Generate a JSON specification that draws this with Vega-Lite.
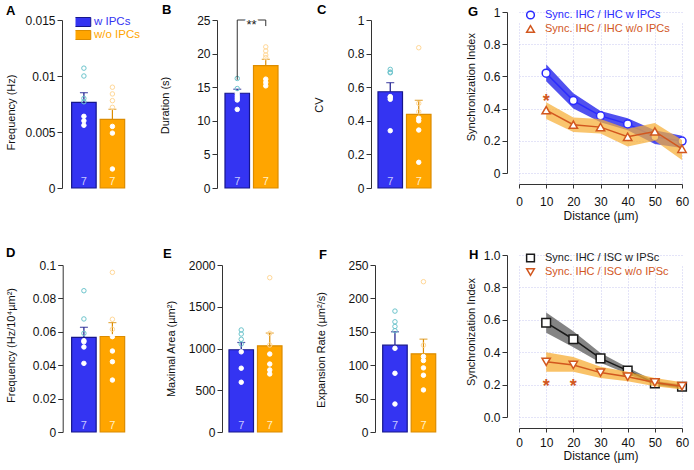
{
"$schema": "https://vega.github.io/schema/vega-lite/v6.json",
"autosize": {"type": "none"},
"padding": {"left": 64, "top": 12, "right": 630, "bottom": 458},
"background": "white",
"datasets": {
"bars": [
{"key":"A|w","panel":"A","group":"w IPCs","mean":0.00765,"hi":0.00851,"n":7},
{"key":"A|o","panel":"A","group":"w/o IPCs","mean":0.00613,"hi":0.00703,"n":7},
{"key":"B|w","panel":"B","group":"w IPCs","mean":14.1,"hi":14.7,"n":7},
{"key":"B|o","panel":"B","group":"w/o IPCs","mean":18.2,"hi":19.15,"n":7},
{"key":"C|w","panel":"C","group":"w IPCs","mean":0.573,"hi":0.627,"n":7},
{"key":"C|o","panel":"C","group":"w/o IPCs","mean":0.438,"hi":0.522,"n":7},
{"key":"D|w","panel":"D","group":"w IPCs","mean":0.0567,"hi":0.0627,"n":7},
{"key":"D|o","panel":"D","group":"w/o IPCs","mean":0.0572,"hi":0.0655,"n":7},
{"key":"E|w","panel":"E","group":"w IPCs","mean":985,"hi":1072,"n":7},
{"key":"E|o","panel":"E","group":"w/o IPCs","mean":1032,"hi":1185,"n":7},
{"key":"F|w","panel":"F","group":"w IPCs","mean":130,"hi":150,"n":7},
{"key":"F|o","panel":"F","group":"w/o IPCs","mean":117,"hi":139,"n":7}
],
"pts": [
{"panel":"A","group":"w IPCs","key":"A|w","v":0.0107},{"panel":"A","group":"w IPCs","key":"A|w","v":0.0100},{"panel":"A","group":"w IPCs","key":"A|w","v":0.0080},{"panel":"A","group":"w IPCs","key":"A|w","v":0.0077},{"panel":"A","group":"w IPCs","key":"A|w","v":0.0064},{"panel":"A","group":"w IPCs","key":"A|w","v":0.0060},{"panel":"A","group":"w IPCs","key":"A|w","v":0.0056},
{"panel":"A","group":"w/o IPCs","key":"A|o","v":0.0090},{"panel":"A","group":"w/o IPCs","key":"A|o","v":0.0084},{"panel":"A","group":"w/o IPCs","key":"A|o","v":0.0078},{"panel":"A","group":"w/o IPCs","key":"A|o","v":0.0072},{"panel":"A","group":"w/o IPCs","key":"A|o","v":0.0055},{"panel":"A","group":"w/o IPCs","key":"A|o","v":0.0049},{"panel":"A","group":"w/o IPCs","key":"A|o","v":0.0017},
{"panel":"B","group":"w IPCs","key":"B|w","v":16.3},{"panel":"B","group":"w IPCs","key":"B|w","v":14.8},{"panel":"B","group":"w IPCs","key":"B|w","v":14.05},{"panel":"B","group":"w IPCs","key":"B|w","v":13.7},{"panel":"B","group":"w IPCs","key":"B|w","v":13.4},{"panel":"B","group":"w IPCs","key":"B|w","v":13.1},{"panel":"B","group":"w IPCs","key":"B|w","v":11.7},
{"panel":"B","group":"w/o IPCs","key":"B|o","v":21.0},{"panel":"B","group":"w/o IPCs","key":"B|o","v":20.4},{"panel":"B","group":"w/o IPCs","key":"B|o","v":19.8},{"panel":"B","group":"w/o IPCs","key":"B|o","v":19.4},{"panel":"B","group":"w/o IPCs","key":"B|o","v":16.2},{"panel":"B","group":"w/o IPCs","key":"B|o","v":15.7},{"panel":"B","group":"w/o IPCs","key":"B|o","v":15.2},
{"panel":"C","group":"w IPCs","key":"C|w","v":0.706},{"panel":"C","group":"w IPCs","key":"C|w","v":0.690},{"panel":"C","group":"w IPCs","key":"C|w","v":0.686},{"panel":"C","group":"w IPCs","key":"C|w","v":0.544},{"panel":"C","group":"w IPCs","key":"C|w","v":0.540},{"panel":"C","group":"w IPCs","key":"C|w","v":0.528},{"panel":"C","group":"w IPCs","key":"C|w","v":0.341},
{"panel":"C","group":"w/o IPCs","key":"C|o","v":0.835},{"panel":"C","group":"w/o IPCs","key":"C|o","v":0.504},{"panel":"C","group":"w/o IPCs","key":"C|o","v":0.454},{"panel":"C","group":"w/o IPCs","key":"C|o","v":0.415},{"panel":"C","group":"w/o IPCs","key":"C|o","v":0.400},{"panel":"C","group":"w/o IPCs","key":"C|o","v":0.345},{"panel":"C","group":"w/o IPCs","key":"C|o","v":0.153},
{"panel":"D","group":"w IPCs","key":"D|w","v":0.0846},{"panel":"D","group":"w IPCs","key":"D|w","v":0.0677},{"panel":"D","group":"w IPCs","key":"D|w","v":0.0591},{"panel":"D","group":"w IPCs","key":"D|w","v":0.0547},{"panel":"D","group":"w IPCs","key":"D|w","v":0.0540},{"panel":"D","group":"w IPCs","key":"D|w","v":0.0509},{"panel":"D","group":"w IPCs","key":"D|w","v":0.0411},
{"panel":"D","group":"w/o IPCs","key":"D|o","v":0.0956},{"panel":"D","group":"w/o IPCs","key":"D|o","v":0.0675},{"panel":"D","group":"w/o IPCs","key":"D|o","v":0.0615},{"panel":"D","group":"w/o IPCs","key":"D|o","v":0.0571},{"panel":"D","group":"w/o IPCs","key":"D|o","v":0.0485},{"panel":"D","group":"w/o IPCs","key":"D|o","v":0.0421},{"panel":"D","group":"w/o IPCs","key":"D|o","v":0.0311},
{"panel":"E","group":"w IPCs","key":"E|w","v":1222},{"panel":"E","group":"w IPCs","key":"E|w","v":1174},{"panel":"E","group":"w IPCs","key":"E|w","v":1110},{"panel":"E","group":"w IPCs","key":"E|w","v":1054},{"panel":"E","group":"w IPCs","key":"E|w","v":960},{"panel":"E","group":"w IPCs","key":"E|w","v":764},{"panel":"E","group":"w IPCs","key":"E|w","v":596},
{"panel":"E","group":"w/o IPCs","key":"E|o","v":1848},{"panel":"E","group":"w/o IPCs","key":"E|o","v":1182},{"panel":"E","group":"w/o IPCs","key":"E|o","v":1042},{"panel":"E","group":"w/o IPCs","key":"E|o","v":934},{"panel":"E","group":"w/o IPCs","key":"E|o","v":814},{"panel":"E","group":"w/o IPCs","key":"E|o","v":743},{"panel":"E","group":"w/o IPCs","key":"E|o","v":695},
{"panel":"F","group":"w IPCs","key":"F|w","v":181},{"panel":"F","group":"w IPCs","key":"F|w","v":165},{"panel":"F","group":"w IPCs","key":"F|w","v":158},{"panel":"F","group":"w IPCs","key":"F|w","v":151.6},{"panel":"F","group":"w IPCs","key":"F|w","v":125.3},{"panel":"F","group":"w IPCs","key":"F|w","v":87.9},{"panel":"F","group":"w IPCs","key":"F|w","v":41.9},
{"panel":"F","group":"w/o IPCs","key":"F|o","v":225},{"panel":"F","group":"w/o IPCs","key":"F|o","v":130},{"panel":"F","group":"w/o IPCs","key":"F|o","v":113},{"panel":"F","group":"w/o IPCs","key":"F|o","v":107},{"panel":"F","group":"w/o IPCs","key":"F|o","v":96},{"panel":"F","group":"w/o IPCs","key":"F|o","v":85},{"panel":"F","group":"w/o IPCs","key":"F|o","v":63}
],
"sync": [
{"panel":"G","s":"Sync. IHC / IHC w IPCs","d":10,"v":0.62,"lo":0.57,"hi":0.675},
{"panel":"G","s":"Sync. IHC / IHC w IPCs","d":20,"v":0.45,"lo":0.40,"hi":0.495},
{"panel":"G","s":"Sync. IHC / IHC w IPCs","d":30,"v":0.355,"lo":0.315,"hi":0.385},
{"panel":"G","s":"Sync. IHC / IHC w IPCs","d":40,"v":0.305,"lo":0.265,"hi":0.34},
{"panel":"G","s":"Sync. IHC / IHC w IPCs","d":50,"v":0.225,"lo":0.18,"hi":0.265},
{"panel":"G","s":"Sync. IHC / IHC w IPCs","d":60,"v":0.198,"lo":0.155,"hi":0.232},
{"panel":"G","s":"Sync. IHC / IHC w/o IPCs","d":10,"v":0.39,"lo":0.335,"hi":0.44},
{"panel":"G","s":"Sync. IHC / IHC w/o IPCs","d":20,"v":0.30,"lo":0.255,"hi":0.345},
{"panel":"G","s":"Sync. IHC / IHC w/o IPCs","d":30,"v":0.285,"lo":0.245,"hi":0.335},
{"panel":"G","s":"Sync. IHC / IHC w/o IPCs","d":40,"v":0.225,"lo":0.165,"hi":0.275},
{"panel":"G","s":"Sync. IHC / IHC w/o IPCs","d":50,"v":0.258,"lo":0.20,"hi":0.31},
{"panel":"G","s":"Sync. IHC / IHC w/o IPCs","d":60,"v":0.15,"lo":0.08,"hi":0.205},
{"panel":"H","s":"Sync. IHC / ISC w IPSc","d":10,"v":0.582,"lo":0.52,"hi":0.645},
{"panel":"H","s":"Sync. IHC / ISC w IPSc","d":20,"v":0.48,"lo":0.43,"hi":0.53},
{"panel":"H","s":"Sync. IHC / ISC w IPSc","d":30,"v":0.362,"lo":0.335,"hi":0.395},
{"panel":"H","s":"Sync. IHC / ISC w IPSc","d":40,"v":0.286,"lo":0.265,"hi":0.305},
{"panel":"H","s":"Sync. IHC / ISC w IPSc","d":50,"v":0.208,"lo":0.198,"hi":0.222},
{"panel":"H","s":"Sync. IHC / ISC w IPSc","d":60,"v":0.187,"lo":0.175,"hi":0.2},
{"panel":"H","s":"Sync. IHC / ISC w/o IPSc","d":10,"v":0.341,"lo":0.28,"hi":0.40},
{"panel":"H","s":"Sync. IHC / ISC w/o IPSc","d":20,"v":0.321,"lo":0.28,"hi":0.37},
{"panel":"H","s":"Sync. IHC / ISC w/o IPSc","d":30,"v":0.274,"lo":0.24,"hi":0.31},
{"panel":"H","s":"Sync. IHC / ISC w/o IPSc","d":40,"v":0.249,"lo":0.22,"hi":0.28},
{"panel":"H","s":"Sync. IHC / ISC w/o IPSc","d":50,"v":0.213,"lo":0.19,"hi":0.24},
{"panel":"H","s":"Sync. IHC / ISC w/o IPSc","d":60,"v":0.19,"lo":0.17,"hi":0.215}
]
},
"columns": 4,
"spacing": {"row": 67, "column": 81.67},
"bounds": "flush",
"resolve": {"scale": {"fill": "independent", "stroke": "independent", "shape": "independent", "color": "independent"}},
"concat": [
{
"width": 70, "height": 176,
"title": {"text": "A", "anchor": "start", "frame": "group", "offset": 0, "baseline": "alphabetic", "dx": -58, "dy": 15.5},
"layer": [
{"data": {"name": "bars"}, "transform": [{"filter": "datum.panel === 'A'"}],
 "mark": {"type": "bar", "strokeWidth": 1.2},
 "encoding": {
  "x": {"field": "group", "type": "nominal", "axis": null, "scale": {"domain": ["w IPCs", "w/o IPCs"], "paddingInner": 0.14, "paddingOuter": 0.298, "align": 0.45}},
  "y": {"field": "mean", "type": "quantitative", "scale": {"domain": [0, 0.015], "nice": false, "rangeMin": 176, "rangeMax": 8}, "axis": {"values": [0, 0.005, 0.01, 0.015], "tickCount": 20, "format": "~g", "title": "Frequency (Hz)", "offset": 2, "titleX": -50.5, "titleY": 100}},
  "fill": {"field": "group", "type": "nominal", "scale": {"domain": ["w IPCs", "w/o IPCs"], "range": ["#3434f2", "#ffa500"]}, "legend": {"orient": "none", "legendX": 11.5, "legendY": 3.5, "title": null, "symbolType": "M-1.9,-0.9L1.9,-0.9L1.9,0.9L-1.9,0.9Z", "symbolSize": 100, "symbolStrokeWidth": 1, "rowPadding": 0, "clipHeight": 13, "labelOffset": 7, "labelFontSize": 11.5, "padding": 0, "labelColor": {"expr": "datum.label === 'w IPCs' ? '#3434f2' : '#ffa500'"}}},
  "stroke": {"field": "group", "type": "nominal", "scale": {"domain": ["w IPCs", "w/o IPCs"], "range": ["#16168c", "#dc8c00"]}, "legend": {"orient": "none", "legendX": 11.5, "legendY": 3.5, "title": null, "symbolType": "M-1.9,-0.9L1.9,-0.9L1.9,0.9L-1.9,0.9Z", "symbolSize": 100, "symbolStrokeWidth": 1, "rowPadding": 0, "clipHeight": 13, "labelOffset": 7, "labelFontSize": 11.5, "padding": 0, "labelColor": {"expr": "datum.label === 'w IPCs' ? '#3434f2' : '#ffa500'"}}}
 }},
{"data": {"name": "bars"}, "transform": [{"filter": "datum.panel === 'A'"}],
 "mark": {"type": "rule", "strokeWidth": 1.2},
 "encoding": {"x": {"field": "group", "type": "nominal"}, "y": {"field": "mean", "type": "quantitative"}, "y2": {"field": "hi"}, "color": {"condition": {"test": "datum.group === 'w IPCs'", "value": "#16168c"}, "value": "#dc8c00"}}},
{"data": {"name": "bars"}, "transform": [{"filter": "datum.panel === 'A'"}],
 "mark": {"type": "tick", "orient": "horizontal", "size": 8, "thickness": 1.2},
 "encoding": {"x": {"field": "group", "type": "nominal"}, "y": {"field": "hi", "type": "quantitative"}, "color": {"condition": {"test": "datum.group === 'w IPCs'", "value": "#16168c"}, "value": "#dc8c00"}}},
{"data": {"name": "pts"}, "transform": [{"filter": "datum.panel === 'A'"}, {"lookup": "key", "from": {"data": {"name": "bars"}, "key": "key", "fields": ["mean"]}}],
 "mark": {"type": "point", "shape": "circle", "size": 20, "strokeWidth": 1, "opacity": 1},
 "encoding": {"x": {"field": "group", "type": "nominal"}, "y": {"field": "v", "type": "quantitative"},
  "fill": {"condition": {"test": "datum.v <= datum.mean", "value": "#ffffff"}, "value": "transparent"},
  "stroke": {"condition": [{"test": "datum.v <= datum.mean", "value": "#ffffff"}, {"test": "datum.group === 'w IPCs'", "value": "#6cc4cc"}], "value": "#ffd898"}}},
{"data": {"name": "bars"}, "transform": [{"filter": "datum.panel === 'A'"}],
 "mark": {"type": "text", "baseline": "bottom", "dy": -1, "fontSize": 11},
 "encoding": {"x": {"field": "group", "type": "nominal"}, "y": {"datum": 0, "type": "quantitative"}, "text": {"field": "n"}, "color": {"condition": {"test": "datum.group === 'w IPCs'", "value": "#c8c8ff"}, "value": "#fff0c8"}}}
]
},
{
"width": 70, "height": 176,
"title": {"text": "B", "anchor": "start", "frame": "group", "offset": 0, "baseline": "alphabetic", "dx": -53.7, "dy": 15},
"layer": [
{"data": {"name": "bars"}, "transform": [{"filter": "datum.panel === 'B'"}],
 "mark": {"type": "bar", "strokeWidth": 1.2},
 "encoding": {
  "x": {"field": "group", "type": "nominal", "axis": null, "scale": {"domain": ["w IPCs", "w/o IPCs"], "paddingInner": 0.14, "paddingOuter": 0.298, "align": 0.549}},
  "y": {"field": "mean", "type": "quantitative", "scale": {"domain": [0, 25], "nice": false, "rangeMin": 176, "rangeMax": 8}, "axis": {"values": [0, 5, 10, 15, 20, 25], "tickCount": 20, "format": "d", "title": "Duration (s)", "offset": -1.33, "titleX": -52, "titleY": 93}},
  "fill": {"field": "group", "type": "nominal", "scale": {"domain": ["w IPCs", "w/o IPCs"], "range": ["#3434f2", "#ffa500"]}, "legend": null},
  "stroke": {"field": "group", "type": "nominal", "scale": {"domain": ["w IPCs", "w/o IPCs"], "range": ["#16168c", "#dc8c00"]}, "legend": null}
 }},
{"data": {"name": "bars"}, "transform": [{"filter": "datum.panel === 'B'"}],
 "mark": {"type": "rule", "strokeWidth": 1.2},
 "encoding": {"x": {"field": "group", "type": "nominal"}, "y": {"field": "mean", "type": "quantitative"}, "y2": {"field": "hi"}, "color": {"condition": {"test": "datum.group === 'w IPCs'", "value": "#16168c"}, "value": "#dc8c00"}}},
{"data": {"name": "bars"}, "transform": [{"filter": "datum.panel === 'B'"}],
 "mark": {"type": "tick", "orient": "horizontal", "size": 8, "thickness": 1.2},
 "encoding": {"x": {"field": "group", "type": "nominal"}, "y": {"field": "hi", "type": "quantitative"}, "color": {"condition": {"test": "datum.group === 'w IPCs'", "value": "#16168c"}, "value": "#dc8c00"}}},
{"data": {"name": "pts"}, "transform": [{"filter": "datum.panel === 'B'"}, {"lookup": "key", "from": {"data": {"name": "bars"}, "key": "key", "fields": ["mean"]}}],
 "mark": {"type": "point", "shape": "circle", "size": 20, "strokeWidth": 1, "opacity": 1},
 "encoding": {"x": {"field": "group", "type": "nominal"}, "y": {"field": "v", "type": "quantitative"},
  "fill": {"condition": {"test": "datum.v <= datum.mean", "value": "#ffffff"}, "value": "transparent"},
  "stroke": {"condition": [{"test": "datum.v <= datum.mean", "value": "#ffffff"}, {"test": "datum.group === 'w IPCs'", "value": "#6cc4cc"}], "value": "#ffd898"}}},
{"data": {"name": "bars"}, "transform": [{"filter": "datum.panel === 'B'"}],
 "mark": {"type": "text", "baseline": "bottom", "dy": -1, "fontSize": 11},
 "encoding": {"x": {"field": "group", "type": "nominal"}, "y": {"datum": 0, "type": "quantitative"}, "text": {"field": "n"}, "color": {"condition": {"test": "datum.group === 'w IPCs'", "value": "#c8c8ff"}, "value": "#fff0c8"}}},
{"data": {"values": [{"g": "w IPCs", "y": 16.1, "y2": 25}, {"g": "w/o IPCs", "y": 24.1, "y2": 25}]},
 "mark": {"type": "rule", "color": "#333333", "strokeWidth": 1},
 "encoding": {"x": {"field": "g", "type": "nominal"}, "y": {"field": "y", "type": "quantitative"}, "y2": {"field": "y2"}}},
{"data": {"values": [{"g": "w IPCs", "g2": "w/o IPCs", "y": 25}]},
 "mark": {"type": "rule", "color": "#333333", "strokeWidth": 1},
 "encoding": {"x": {"field": "g", "type": "nominal"}, "x2": {"field": "g2"}, "y": {"field": "y", "type": "quantitative"}}},
{"data": {"values": [{"g": "w IPCs", "y": 23.7, "t": "**"}]},
 "mark": {"type": "text", "fontSize": 13, "stroke": "white", "strokeWidth": 4, "fill": "white", "dx": 2, "baseline": "alphabetic"},
 "encoding": {"x": {"field": "g", "type": "nominal", "bandPosition": 1}, "y": {"field": "y", "type": "quantitative"}, "text": {"field": "t"}}},
{"data": {"values": [{"g": "w IPCs", "y": 23.7, "t": "**"}]},
 "mark": {"type": "text", "fontSize": 13, "fill": "#222222", "dx": 2, "baseline": "alphabetic"},
 "encoding": {"x": {"field": "g", "type": "nominal", "bandPosition": 1}, "y": {"field": "y", "type": "quantitative"}, "text": {"field": "t"}}}
]
},
{
"width": 70, "height": 176,
"title": {"text": "C", "anchor": "start", "frame": "group", "offset": 0, "baseline": "alphabetic", "dx": -50.3, "dy": 15},
"layer": [
{"data": {"name": "bars"}, "transform": [{"filter": "datum.panel === 'C'"}],
 "mark": {"type": "bar", "strokeWidth": 1.2},
 "encoding": {
  "x": {"field": "group", "type": "nominal", "axis": null, "scale": {"domain": ["w IPCs", "w/o IPCs"], "paddingInner": 0.14, "paddingOuter": 0.298, "align": 0.627}},
  "y": {"field": "mean", "type": "quantitative", "scale": {"domain": [0, 1], "nice": false, "rangeMin": 176, "rangeMax": 8}, "axis": {"values": [0, 0.2, 0.4, 0.6, 0.8, 1], "tickCount": 20, "format": "~g", "title": "CV", "offset": -3.67, "titleX": -52, "titleY": 92.5}},
  "fill": {"field": "group", "type": "nominal", "scale": {"domain": ["w IPCs", "w/o IPCs"], "range": ["#3434f2", "#ffa500"]}, "legend": null},
  "stroke": {"field": "group", "type": "nominal", "scale": {"domain": ["w IPCs", "w/o IPCs"], "range": ["#16168c", "#dc8c00"]}, "legend": null}
 }},
{"data": {"name": "bars"}, "transform": [{"filter": "datum.panel === 'C'"}],
 "mark": {"type": "rule", "strokeWidth": 1.2},
 "encoding": {"x": {"field": "group", "type": "nominal"}, "y": {"field": "mean", "type": "quantitative"}, "y2": {"field": "hi"}, "color": {"condition": {"test": "datum.group === 'w IPCs'", "value": "#16168c"}, "value": "#dc8c00"}}},
{"data": {"name": "bars"}, "transform": [{"filter": "datum.panel === 'C'"}],
 "mark": {"type": "tick", "orient": "horizontal", "size": 8, "thickness": 1.2},
 "encoding": {"x": {"field": "group", "type": "nominal"}, "y": {"field": "hi", "type": "quantitative"}, "color": {"condition": {"test": "datum.group === 'w IPCs'", "value": "#16168c"}, "value": "#dc8c00"}}},
{"data": {"name": "pts"}, "transform": [{"filter": "datum.panel === 'C'"}, {"lookup": "key", "from": {"data": {"name": "bars"}, "key": "key", "fields": ["mean"]}}],
 "mark": {"type": "point", "shape": "circle", "size": 20, "strokeWidth": 1, "opacity": 1},
 "encoding": {"x": {"field": "group", "type": "nominal"}, "y": {"field": "v", "type": "quantitative"},
  "fill": {"condition": {"test": "datum.v <= datum.mean", "value": "#ffffff"}, "value": "transparent"},
  "stroke": {"condition": [{"test": "datum.v <= datum.mean", "value": "#ffffff"}, {"test": "datum.group === 'w IPCs'", "value": "#6cc4cc"}], "value": "#ffd898"}}},
{"data": {"name": "bars"}, "transform": [{"filter": "datum.panel === 'C'"}],
 "mark": {"type": "text", "baseline": "bottom", "dy": -1, "fontSize": 11},
 "encoding": {"x": {"field": "group", "type": "nominal"}, "y": {"datum": 0, "type": "quantitative"}, "text": {"field": "n"}, "color": {"condition": {"test": "datum.group === 'w IPCs'", "value": "#c8c8ff"}, "value": "#fff0c8"}}}
]
},
{
"width": 163, "height": 172,
"layer": [
{"data": {"name": "sync"}, "transform": [{"filter": "datum.s === 'Sync. IHC / IHC w IPCs'"}],
 "mark": {"type": "area", "color": "#4848ee", "opacity": 0.95},
 "encoding": {
  "x": {"field": "d", "type": "quantitative", "scale": {"domain": [0, 60], "nice": false}, "axis": {"values": [0, 10, 20, 30, 40, 50, 60], "tickCount": 20, "title": "Distance (µm)", "titleFontSize": 12, "grid": true, "gridColor": "#c8c8f0", "gridDash": [1, 2], "labelPadding": 8, "titleY": 31, "labelFlush": false}},
  "y": {"field": "lo", "type": "quantitative", "scale": {"domain": [0, 1], "nice": false, "rangeMin": 161, "rangeMax": 0}, "axis": {"values": [0, 0.2, 0.4, 0.6, 0.8, 1], "tickCount": 20, "format": "~g", "title": "Synchronization Index", "offset": 12, "grid": true, "gridColor": "#c8c8f0", "gridDash": [1, 2], "titleX": -35.3, "titleY": 74.7}},
  "y2": {"field": "hi"}
 }},
{"data": {"name": "sync"}, "transform": [{"filter": "datum.s === 'Sync. IHC / IHC w IPCs'"}],
 "mark": {"type": "line", "strokeWidth": 1.5},
 "encoding": {"x": {"field": "d", "type": "quantitative"}, "y": {"field": "v", "type": "quantitative"},
  "stroke": {"field": "s", "type": "nominal", "scale": {"domain": ["Sync. IHC / IHC w IPCs", "Sync. IHC / IHC w/o IPCs"], "range": ["#2b2bff", "#d2571e"]}, "legend": {"orient": "none", "legendX": 6, "legendY": -4, "title": null, "labelFontSize": 11, "labelOffset": 9, "rowPadding": 0, "clipHeight": 14, "symbolSize": 60, "symbolStrokeWidth": 1.5, "padding": 0, "labelColor": {"expr": "datum.label === 'Sync. IHC / IHC w IPCs' ? '#2b2bff' : '#d2571e'"}}}}},
{"data": {"name": "sync"}, "transform": [{"filter": "datum.s === 'Sync. IHC / IHC w IPCs'"}],
 "mark": {"type": "point", "size": 64, "strokeWidth": 1.5, "opacity": 1, "fill": "white", "filled": false},
 "encoding": {"x": {"field": "d", "type": "quantitative"}, "y": {"field": "v", "type": "quantitative"},
  "stroke": {"field": "s", "type": "nominal", "legend": {"orient": "none", "legendX": 6, "legendY": -4, "title": null, "labelFontSize": 11, "labelOffset": 9, "rowPadding": 0, "clipHeight": 14, "symbolSize": 60, "symbolStrokeWidth": 1.5, "padding": 0, "labelColor": {"expr": "datum.label === 'Sync. IHC / IHC w IPCs' ? '#2b2bff' : '#d2571e'"}}},
  "shape": {"field": "s", "type": "nominal", "scale": {"domain": ["Sync. IHC / IHC w IPCs", "Sync. IHC / IHC w/o IPCs"], "range": ["circle", "triangle-up"]}, "legend": {"orient": "none", "legendX": 6, "legendY": -4, "title": null, "labelFontSize": 11, "labelOffset": 9, "rowPadding": 0, "clipHeight": 14, "symbolSize": 60, "symbolStrokeWidth": 1.5, "padding": 0, "labelColor": {"expr": "datum.label === 'Sync. IHC / IHC w IPCs' ? '#2b2bff' : '#d2571e'"}}}}},
{"data": {"name": "sync"}, "transform": [{"filter": "datum.s === 'Sync. IHC / IHC w/o IPCs'"}],
 "mark": {"type": "area", "color": "#f7ae36", "opacity": 0.72},
 "encoding": {"x": {"field": "d", "type": "quantitative"}, "y": {"field": "lo", "type": "quantitative"}, "y2": {"field": "hi"}}},
{"data": {"name": "sync"}, "transform": [{"filter": "datum.s === 'Sync. IHC / IHC w/o IPCs'"}],
 "mark": {"type": "line", "strokeWidth": 1.5},
 "encoding": {"x": {"field": "d", "type": "quantitative"}, "y": {"field": "v", "type": "quantitative"}, "stroke": {"field": "s", "type": "nominal"}}},
{"data": {"name": "sync"}, "transform": [{"filter": "datum.s === 'Sync. IHC / IHC w/o IPCs'"}],
 "mark": {"type": "point", "size": 70, "strokeWidth": 1.5, "opacity": 1, "fill": "white", "filled": false},
 "encoding": {"x": {"field": "d", "type": "quantitative"}, "y": {"field": "v", "type": "quantitative"}, "stroke": {"field": "s", "type": "nominal"}, "shape": {"field": "s", "type": "nominal"}}},
{"data": {"values": [{"d": 10, "y": 0.41, "t": "*"}]},
 "mark": {"type": "text", "color": "#d2571e", "fontSize": 18, "fontWeight": "bold", "baseline": "alphabetic"},
 "encoding": {"x": {"field": "d", "type": "quantitative"}, "y": {"field": "y", "type": "quantitative"}, "text": {"field": "t"}}},
{"data": {"values": [{"t": "G"}]},
 "mark": {"type": "text", "color": "#000000", "fontSize": 13, "fontWeight": "bold", "align": "left", "baseline": "alphabetic"},
 "encoding": {"x": {"datum": -18.8, "type": "quantitative"}, "y": {"datum": 0.975, "type": "quantitative"}, "text": {"field": "t"}}}
]
},
{
"width": 70, "height": 177,
"title": {"text": "D", "anchor": "start", "frame": "group", "offset": 0, "baseline": "alphabetic", "dx": -58, "dy": 14.5},
"layer": [
{"data": {"name": "bars"}, "transform": [{"filter": "datum.panel === 'D'"}],
 "mark": {"type": "bar", "strokeWidth": 1.2},
 "encoding": {
  "x": {"field": "group", "type": "nominal", "axis": null, "scale": {"domain": ["w IPCs", "w/o IPCs"], "paddingInner": 0.14, "paddingOuter": 0.298, "align": 0.45}},
  "y": {"field": "mean", "type": "quantitative", "scale": {"domain": [0, 0.1], "nice": false, "rangeMin": 177, "rangeMax": 10}, "axis": {"values": [0, 0.02, 0.04, 0.06, 0.08, 0.1], "tickCount": 20, "format": "~g", "title": "Frequency (Hz/10⁴µm²)", "offset": 1.3, "titleX": -51, "titleY": 90}},
  "fill": {"field": "group", "type": "nominal", "scale": {"domain": ["w IPCs", "w/o IPCs"], "range": ["#3434f2", "#ffa500"]}, "legend": null},
  "stroke": {"field": "group", "type": "nominal", "scale": {"domain": ["w IPCs", "w/o IPCs"], "range": ["#16168c", "#dc8c00"]}, "legend": null}
 }},
{"data": {"name": "bars"}, "transform": [{"filter": "datum.panel === 'D'"}],
 "mark": {"type": "rule", "strokeWidth": 1.2},
 "encoding": {"x": {"field": "group", "type": "nominal"}, "y": {"field": "mean", "type": "quantitative"}, "y2": {"field": "hi"}, "color": {"condition": {"test": "datum.group === 'w IPCs'", "value": "#16168c"}, "value": "#dc8c00"}}},
{"data": {"name": "bars"}, "transform": [{"filter": "datum.panel === 'D'"}],
 "mark": {"type": "tick", "orient": "horizontal", "size": 8, "thickness": 1.2},
 "encoding": {"x": {"field": "group", "type": "nominal"}, "y": {"field": "hi", "type": "quantitative"}, "color": {"condition": {"test": "datum.group === 'w IPCs'", "value": "#16168c"}, "value": "#dc8c00"}}},
{"data": {"name": "pts"}, "transform": [{"filter": "datum.panel === 'D'"}, {"lookup": "key", "from": {"data": {"name": "bars"}, "key": "key", "fields": ["mean"]}}],
 "mark": {"type": "point", "shape": "circle", "size": 20, "strokeWidth": 1, "opacity": 1},
 "encoding": {"x": {"field": "group", "type": "nominal"}, "y": {"field": "v", "type": "quantitative"},
  "fill": {"condition": {"test": "datum.v <= datum.mean", "value": "#ffffff"}, "value": "transparent"},
  "stroke": {"condition": [{"test": "datum.v <= datum.mean", "value": "#ffffff"}, {"test": "datum.group === 'w IPCs'", "value": "#6cc4cc"}], "value": "#ffd898"}}},
{"data": {"name": "bars"}, "transform": [{"filter": "datum.panel === 'D'"}],
 "mark": {"type": "text", "baseline": "bottom", "dy": -1, "fontSize": 11},
 "encoding": {"x": {"field": "group", "type": "nominal"}, "y": {"datum": 0, "type": "quantitative"}, "text": {"field": "n"}, "color": {"condition": {"test": "datum.group === 'w IPCs'", "value": "#c8c8ff"}, "value": "#fff0c8"}}}
]
},
{
"width": 70, "height": 177,
"title": {"text": "E", "anchor": "start", "frame": "group", "offset": 0, "baseline": "alphabetic", "dx": -52.7, "dy": 16},
"layer": [
{"data": {"name": "bars"}, "transform": [{"filter": "datum.panel === 'E'"}],
 "mark": {"type": "bar", "strokeWidth": 1.2},
 "encoding": {
  "x": {"field": "group", "type": "nominal", "axis": null, "scale": {"domain": ["w IPCs", "w/o IPCs"], "paddingInner": 0.14, "paddingOuter": 0.298, "align": 0.784}},
  "y": {"field": "mean", "type": "quantitative", "scale": {"domain": [0, 2000], "nice": false, "rangeMin": 177, "rangeMax": 10}, "axis": {"values": [0, 500, 1000, 1500, 2000], "tickCount": 20, "format": "d", "title": "Maximal Area (µm²)", "offset": -6.33, "titleX": -50.3, "titleY": 93.5}},
  "fill": {"field": "group", "type": "nominal", "scale": {"domain": ["w IPCs", "w/o IPCs"], "range": ["#3434f2", "#ffa500"]}, "legend": null},
  "stroke": {"field": "group", "type": "nominal", "scale": {"domain": ["w IPCs", "w/o IPCs"], "range": ["#16168c", "#dc8c00"]}, "legend": null}
 }},
{"data": {"name": "bars"}, "transform": [{"filter": "datum.panel === 'E'"}],
 "mark": {"type": "rule", "strokeWidth": 1.2},
 "encoding": {"x": {"field": "group", "type": "nominal"}, "y": {"field": "mean", "type": "quantitative"}, "y2": {"field": "hi"}, "color": {"condition": {"test": "datum.group === 'w IPCs'", "value": "#16168c"}, "value": "#dc8c00"}}},
{"data": {"name": "bars"}, "transform": [{"filter": "datum.panel === 'E'"}],
 "mark": {"type": "tick", "orient": "horizontal", "size": 8, "thickness": 1.2},
 "encoding": {"x": {"field": "group", "type": "nominal"}, "y": {"field": "hi", "type": "quantitative"}, "color": {"condition": {"test": "datum.group === 'w IPCs'", "value": "#16168c"}, "value": "#dc8c00"}}},
{"data": {"name": "pts"}, "transform": [{"filter": "datum.panel === 'E'"}, {"lookup": "key", "from": {"data": {"name": "bars"}, "key": "key", "fields": ["mean"]}}],
 "mark": {"type": "point", "shape": "circle", "size": 20, "strokeWidth": 1, "opacity": 1},
 "encoding": {"x": {"field": "group", "type": "nominal"}, "y": {"field": "v", "type": "quantitative"},
  "fill": {"condition": {"test": "datum.v <= datum.mean", "value": "#ffffff"}, "value": "transparent"},
  "stroke": {"condition": [{"test": "datum.v <= datum.mean", "value": "#ffffff"}, {"test": "datum.group === 'w IPCs'", "value": "#6cc4cc"}], "value": "#ffd898"}}},
{"data": {"name": "bars"}, "transform": [{"filter": "datum.panel === 'E'"}],
 "mark": {"type": "text", "baseline": "bottom", "dy": -1, "fontSize": 11},
 "encoding": {"x": {"field": "group", "type": "nominal"}, "y": {"datum": 0, "type": "quantitative"}, "text": {"field": "n"}, "color": {"condition": {"test": "datum.group === 'w IPCs'", "value": "#c8c8ff"}, "value": "#fff0c8"}}}
]
},
{
"width": 70, "height": 177,
"title": {"text": "F", "anchor": "start", "frame": "group", "offset": 0, "baseline": "alphabetic", "dx": -48.3, "dy": 16.5},
"layer": [
{"data": {"name": "bars"}, "transform": [{"filter": "datum.panel === 'F'"}],
 "mark": {"type": "bar", "strokeWidth": 1.2},
 "encoding": {
  "x": {"field": "group", "type": "nominal", "axis": null, "scale": {"domain": ["w IPCs", "w/o IPCs"], "paddingInner": 0.14, "paddingOuter": 0.298, "align": 0.904}},
  "y": {"field": "mean", "type": "quantitative", "scale": {"domain": [0, 250], "nice": false, "rangeMin": 177, "rangeMax": 10}, "axis": {"values": [0, 50, 100, 150, 200, 250], "tickCount": 20, "format": "d", "title": "Expansion Rate (µm²/s)", "offset": -7.67, "titleX": -53.3, "titleY": 94.5}},
  "fill": {"field": "group", "type": "nominal", "scale": {"domain": ["w IPCs", "w/o IPCs"], "range": ["#3434f2", "#ffa500"]}, "legend": null},
  "stroke": {"field": "group", "type": "nominal", "scale": {"domain": ["w IPCs", "w/o IPCs"], "range": ["#16168c", "#dc8c00"]}, "legend": null}
 }},
{"data": {"name": "bars"}, "transform": [{"filter": "datum.panel === 'F'"}],
 "mark": {"type": "rule", "strokeWidth": 1.2},
 "encoding": {"x": {"field": "group", "type": "nominal"}, "y": {"field": "mean", "type": "quantitative"}, "y2": {"field": "hi"}, "color": {"condition": {"test": "datum.group === 'w IPCs'", "value": "#16168c"}, "value": "#dc8c00"}}},
{"data": {"name": "bars"}, "transform": [{"filter": "datum.panel === 'F'"}],
 "mark": {"type": "tick", "orient": "horizontal", "size": 8, "thickness": 1.2},
 "encoding": {"x": {"field": "group", "type": "nominal"}, "y": {"field": "hi", "type": "quantitative"}, "color": {"condition": {"test": "datum.group === 'w IPCs'", "value": "#16168c"}, "value": "#dc8c00"}}},
{"data": {"name": "pts"}, "transform": [{"filter": "datum.panel === 'F'"}, {"lookup": "key", "from": {"data": {"name": "bars"}, "key": "key", "fields": ["mean"]}}],
 "mark": {"type": "point", "shape": "circle", "size": 20, "strokeWidth": 1, "opacity": 1},
 "encoding": {"x": {"field": "group", "type": "nominal"}, "y": {"field": "v", "type": "quantitative"},
  "fill": {"condition": {"test": "datum.v <= datum.mean", "value": "#ffffff"}, "value": "transparent"},
  "stroke": {"condition": [{"test": "datum.v <= datum.mean", "value": "#ffffff"}, {"test": "datum.group === 'w IPCs'", "value": "#6cc4cc"}], "value": "#ffd898"}}},
{"data": {"name": "bars"}, "transform": [{"filter": "datum.panel === 'F'"}],
 "mark": {"type": "text", "baseline": "bottom", "dy": -1, "fontSize": 11},
 "encoding": {"x": {"field": "group", "type": "nominal"}, "y": {"datum": 0, "type": "quantitative"}, "text": {"field": "n"}, "color": {"condition": {"test": "datum.group === 'w IPCs'", "value": "#c8c8ff"}, "value": "#fff0c8"}}}
]
},
{
"width": 163, "height": 173,
"layer": [
{"data": {"name": "sync"}, "transform": [{"filter": "datum.s === 'Sync. IHC / ISC w IPSc'"}],
 "mark": {"type": "area", "color": "#6e6e6e", "opacity": 0.85},
 "encoding": {
  "x": {"field": "d", "type": "quantitative", "scale": {"domain": [0, 60], "nice": false}, "axis": {"values": [0, 10, 20, 30, 40, 50, 60], "tickCount": 20, "title": "Distance (µm)", "titleFontSize": 12, "grid": true, "gridColor": "#c8c8f0", "gridDash": [1, 2], "labelPadding": 5, "titleY": 27, "labelFlush": false}},
  "y": {"field": "lo", "type": "quantitative", "scale": {"domain": [0, 1], "nice": false, "rangeMin": 162, "rangeMax": 0}, "axis": {"values": [0, 0.2, 0.4, 0.6, 0.8, 1], "tickCount": 20, "format": ".1f", "title": "Synchronization Index", "offset": 12, "grid": true, "gridColor": "#c8c8f0", "gridDash": [1, 2], "titleX": -35.3, "titleY": 76.5}},
  "y2": {"field": "hi"}
 }},
{"data": {"name": "sync"}, "transform": [{"filter": "datum.s === 'Sync. IHC / ISC w IPSc'"}],
 "mark": {"type": "line", "strokeWidth": 1.5},
 "encoding": {"x": {"field": "d", "type": "quantitative"}, "y": {"field": "v", "type": "quantitative"},
  "stroke": {"field": "s", "type": "nominal", "scale": {"domain": ["Sync. IHC / ISC w IPSc", "Sync. IHC / ISC w/o IPSc"], "range": ["#1a1a1a", "#d2571e"]}, "legend": {"orient": "none", "legendX": 6, "legendY": -4, "title": null, "labelFontSize": 11, "labelOffset": 9, "rowPadding": 0, "clipHeight": 14, "symbolSize": 60, "symbolStrokeWidth": 1.5, "padding": 0, "labelColor": {"expr": "datum.label === 'Sync. IHC / ISC w IPSc' ? '#1a1a1a' : '#d2571e'"}}}}},
{"data": {"name": "sync"}, "transform": [{"filter": "datum.s === 'Sync. IHC / ISC w IPSc'"}],
 "mark": {"type": "point", "size": 75, "strokeWidth": 1.5, "opacity": 1, "fill": "white", "filled": false},
 "encoding": {"x": {"field": "d", "type": "quantitative"}, "y": {"field": "v", "type": "quantitative"},
  "stroke": {"field": "s", "type": "nominal", "legend": {"orient": "none", "legendX": 6, "legendY": -4, "title": null, "labelFontSize": 11, "labelOffset": 9, "rowPadding": 0, "clipHeight": 14, "symbolSize": 60, "symbolStrokeWidth": 1.5, "padding": 0, "labelColor": {"expr": "datum.label === 'Sync. IHC / ISC w IPSc' ? '#1a1a1a' : '#d2571e'"}}},
  "shape": {"field": "s", "type": "nominal", "scale": {"domain": ["Sync. IHC / ISC w IPSc", "Sync. IHC / ISC w/o IPSc"], "range": ["square", "triangle-down"]}, "legend": {"orient": "none", "legendX": 6, "legendY": -4, "title": null, "labelFontSize": 11, "labelOffset": 9, "rowPadding": 0, "clipHeight": 14, "symbolSize": 60, "symbolStrokeWidth": 1.5, "padding": 0, "labelColor": {"expr": "datum.label === 'Sync. IHC / ISC w IPSc' ? '#1a1a1a' : '#d2571e'"}}}}},
{"data": {"name": "sync"}, "transform": [{"filter": "datum.s === 'Sync. IHC / ISC w/o IPSc'"}],
 "mark": {"type": "area", "color": "#f7ae36", "opacity": 0.75},
 "encoding": {"x": {"field": "d", "type": "quantitative"}, "y": {"field": "lo", "type": "quantitative"}, "y2": {"field": "hi"}}},
{"data": {"name": "sync"}, "transform": [{"filter": "datum.s === 'Sync. IHC / ISC w/o IPSc'"}],
 "mark": {"type": "line", "strokeWidth": 1.5},
 "encoding": {"x": {"field": "d", "type": "quantitative"}, "y": {"field": "v", "type": "quantitative"}, "stroke": {"field": "s", "type": "nominal"}}},
{"data": {"name": "sync"}, "transform": [{"filter": "datum.s === 'Sync. IHC / ISC w/o IPSc'"}],
 "mark": {"type": "point", "size": 70, "strokeWidth": 1.5, "opacity": 1, "fill": "white", "filled": false},
 "encoding": {"x": {"field": "d", "type": "quantitative"}, "y": {"field": "v", "type": "quantitative"}, "stroke": {"field": "s", "type": "nominal"}, "shape": {"field": "s", "type": "nominal"}}},
{"data": {"values": [{"d": 10, "y": 0.154, "t": "*"}, {"d": 20, "y": 0.154, "t": "*"}]},
 "mark": {"type": "text", "color": "#d2571e", "fontSize": 18, "fontWeight": "bold", "baseline": "alphabetic"},
 "encoding": {"x": {"field": "d", "type": "quantitative"}, "y": {"field": "y", "type": "quantitative"}, "text": {"field": "t"}}},
{"data": {"values": [{"t": "H"}]},
 "mark": {"type": "text", "color": "#000000", "fontSize": 13, "fontWeight": "bold", "align": "left", "baseline": "alphabetic"},
 "encoding": {"x": {"datum": -18.4, "type": "quantitative"}, "y": {"datum": 0.975, "type": "quantitative"}, "text": {"field": "t"}}}
]
}
],
"config": {
 "view": {"stroke": null},
 "font": "Liberation Sans",
 "title": {"font": "Liberation Sans", "fontSize": 13, "fontWeight": "bold", "color": "#000000"},
 "axis": {"labelFont": "Liberation Sans", "titleFont": "Liberation Sans", "labelFontSize": 12, "titleFontSize": 11, "titleFontWeight": "normal", "labelColor": "#111111", "titleColor": "#111111", "domainColor": "#333333", "tickColor": "#333333", "domainWidth": 1, "tickWidth": 1, "grid": false, "labelPadding": 2, "labelOverlap": false},
 "axisY": {"titleAngle": 270, "titleBaseline": "middle", "titleAlign": "center", "tickSize": 5},
 "axisX": {"tickSize": 4, "titleBaseline": "middle", "titleAlign": "center"},
 "legend": {"labelFont": "Liberation Sans"}
}
}
